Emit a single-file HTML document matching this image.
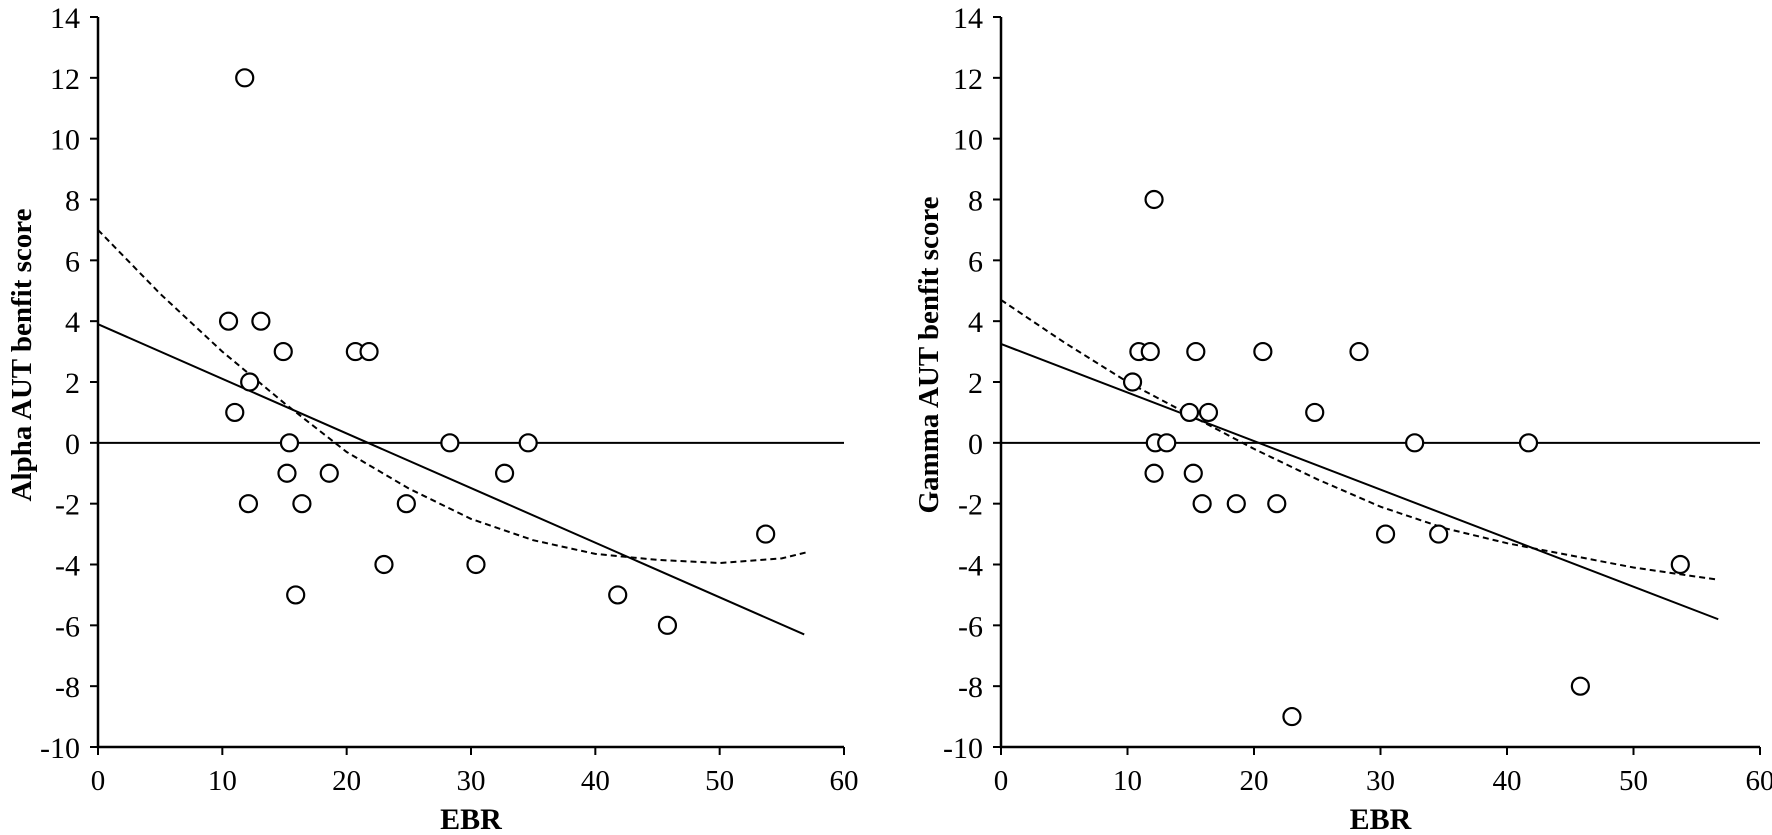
<!DOCTYPE html>
<html><head><meta charset="utf-8"><style>
html,body{margin:0;padding:0;background:#fff}
svg{display:block;font-family:"Liberation Serif",serif}
</style></head><body>
<svg id="c" width="1772" height="835" xmlns="http://www.w3.org/2000/svg"></svg>
<script>
const xTicks=[0,10,20,30,40,50,60];
const yTicks=[-10,-8,-6,-4,-2,0,2,4,6,8,10,12,14];
const alphaX=[10.5,11,11.8,12.2,12.1,13.1,14.9,15.2,15.4,15.9,16.4,18.6,20.7,21.8,23,24.8,28.3,30.4,32.7,34.6,41.8,45.8,53.7];
const alphaY=[4,1,12,2,-2,4,3,-1,0,-5,-2,-1,3,3,-4,-2,0,-4,-1,0,-5,-6,-3];
const alphaLineX=[0,56.8];
const alphaLineY=[3.9,-6.3];
const alphaCurveX=[0,5,10,15,20,25,30,35,40,45,50,55,57];
const alphaCurveY=[7,4.9,3.0,1.3,-0.3,-1.5,-2.5,-3.2,-3.65,-3.85,-3.95,-3.8,-3.6];
const gammaX=[10.4,10.9,11.8,12.1,12.2,12.1,13.1,14.9,15.2,15.4,15.9,16.4,18.6,20.7,21.8,23,24.8,28.3,30.4,32.7,34.6,41.7,45.8,53.7];
const gammaY=[2,3,3,8,0,-1,0,1,-1,3,-2,1,-2,3,-2,-9,1,3,-3,0,-3,0,-8,-4];
const gammaLineX=[0,56.7];
const gammaLineY=[3.25,-5.8];
const gammaCurveX=[0,5,10,15,20,25,30,35,40,45,50,55,56.7];
const gammaCurveY=[4.7,3.3,2.0,0.9,-0.2,-1.2,-2.1,-2.8,-3.3,-3.7,-4.1,-4.4,-4.5];

const svg=document.getElementById('c');
const NS='http://www.w3.org/2000/svg';
function mk(tag,attrs,parent){const e=document.createElementNS(NS,tag);for(const k in attrs)e.setAttribute(k,attrs[k]);parent.appendChild(e);return e;}

function panel(id,x0,x60,title,titleX,px,py,lx,ly,cx,cy){
  const g=mk('g',{},svg);
  
  
  const X=v=>x0+(x60-x0)*v/60;
  const Y=v=>747-(v+10)*(747-17)/24;
  const ax=mk('path',{d:`M${X(0)} ${Y(14)} V${Y(-10)} H${X(60)}`,stroke:'#000','stroke-width':2.5,fill:'none'},g);
  
  
  yTicks.forEach(t=>{
    mk('line',{x1:X(0)-8,x2:X(0),y1:Y(t),y2:Y(t),stroke:'#000','stroke-width':2},g);
    const tx=mk('text',{x:X(0)-18,y:Y(t)+11,'font-size':30,'text-anchor':'end'},g);
    tx.textContent=t;
    
    
  });
  xTicks.forEach(t=>{
    mk('line',{x1:X(t),x2:X(t),y1:Y(-10),y2:Y(-10)+8,stroke:'#000','stroke-width':2},g);
    const tx=mk('text',{x:X(t),y:790,'font-size':29,'text-anchor':'middle'},g);
    tx.textContent=t;
    
    
  });
  const zl=mk('line',{x1:X(0),x2:X(60),y1:Y(0),y2:Y(0),stroke:'#000','stroke-width':2},g);
  
  
  const rl=mk('line',{x1:X(lx[0]),y1:Y(ly[0]),x2:X(lx[1]),y2:Y(ly[1]),stroke:'#000','stroke-width':2},g);
  
  
  const d=cx.map((v,i)=>(i?'L':'M')+X(v).toFixed(1)+' '+Y(cy[i]).toFixed(1)).join(' ');
  const cp=mk('path',{d:d,stroke:'#000','stroke-width':2,fill:'none','stroke-dasharray':'6 4'},g);
  
  
  px.forEach((v,i)=>{
    const c=mk('circle',{cx:X(v),cy:Y(py[i]),r:8.5,fill:'#fff',stroke:'#000','stroke-width':2.2},g);
    
    
  });
  const xt=mk('text',{x:X(30),y:829,'font-size':30,'font-weight':'bold','text-anchor':'middle'},g);
  xt.textContent='EBR';
  
  
  const yt=mk('text',{x:0,y:0,'font-size':29,'font-weight':'bold','text-anchor':'middle',transform:`translate(${titleX},355) rotate(-90)`},g);
  yt.textContent=title;
  
  
}
panel('alpha',98,844,'Alpha AUT benfit score',31,alphaX,alphaY,alphaLineX,alphaLineY,alphaCurveX,alphaCurveY);
panel('gamma',1001,1760,'Gamma AUT benfit score',938,gammaX,gammaY,gammaLineX,gammaLineY,gammaCurveX,gammaCurveY);
</script>
</body></html>
